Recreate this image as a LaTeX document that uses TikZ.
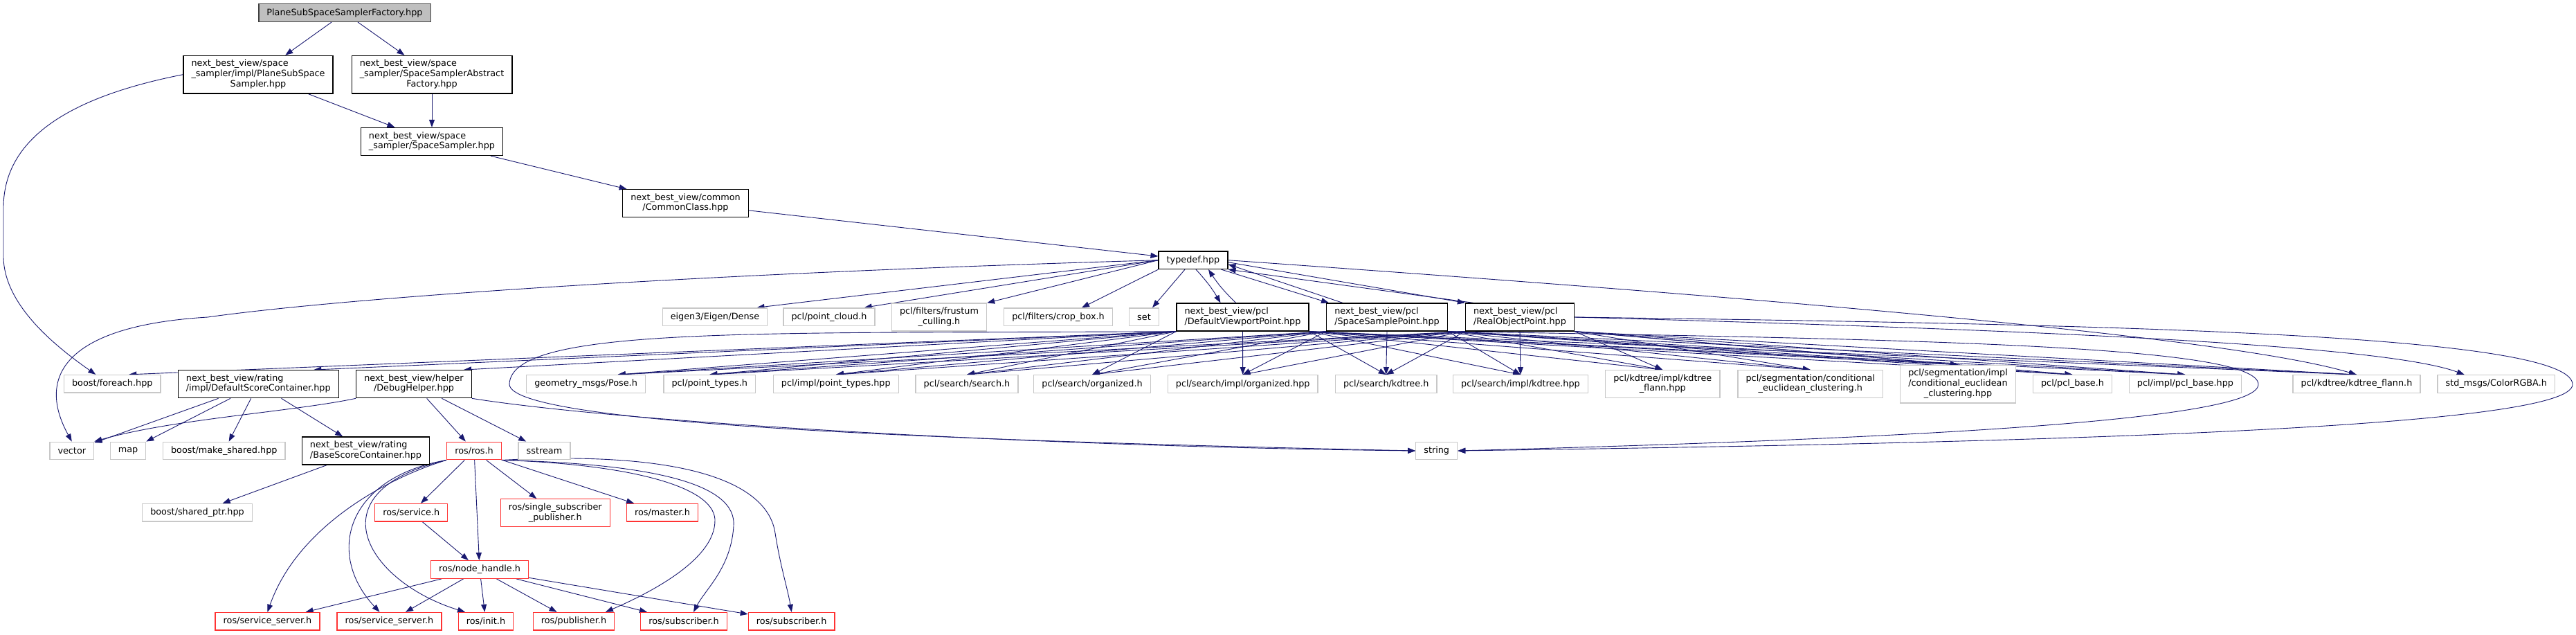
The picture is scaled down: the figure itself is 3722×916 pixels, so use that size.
\documentclass[tikz,border=0pt]{standalone}
\usepackage{fontspec}
\setmainfont{DejaVu Sans}
\usetikzlibrary{arrows.meta}

\definecolor{edgeblue}{HTML}{191970}
\definecolor{extgray}{HTML}{C8C8C8}
\definecolor{truncred}{HTML}{FF3333}
\definecolor{rootgray}{HTML}{BFBFBF}

\pgfdeclarelayer{bg}
\pgfsetlayers{bg,main}

% wrapped file names: first lines left, last line centred
\newcommand{\twoline}[2]{\begin{tabular}{@{}l@{}}#1\\\multicolumn{1}{@{}c@{}}{#2}\end{tabular}}
\newcommand{\threeline}[3]{\begin{tabular}{@{}l@{}}#1\\#2\\\multicolumn{1}{@{}c@{}}{#3}\end{tabular}}

\tikzset{
  filebox/.style={rectangle, draw, fill=white, inner xsep=5.8pt, inner ysep=2.65pt,
    minimum height=12.8pt, line width=0.65pt, font=\fontsize{6.4}{7.35}\selectfont},
  mainbox/.style={filebox, draw=black!75, fill=rootgray},
  docbox/.style={filebox, draw=black},
  extbox/.style={filebox, draw=extgray},
  redbox/.style={filebox, draw=truncred},
  inc/.style={draw=edgeblue, line width=0.45pt, -{Triangle[length=5.5pt,width=4pt]}},
}

\begin{document}
\begin{tikzpicture}[x=0.5pt, y=-0.5pt]
    \useasboundingbox (0,0) rectangle (3722,916);

    % Tep goc va chuoi include phia tren
    \node[mainbox] (root) at (498,18.5) {PlaneSubSpaceSamplerFactory.hpp};
    \node[docbox] (psss) at (373,107.7) {\threeline{next\_best\_view/space}{\_sampler/impl/PlaneSubSpace}{Sampler.hpp}};
    \node[docbox] (ssaf) at (624,107.7) {\threeline{next\_best\_view/space}{\_sampler/SpaceSamplerAbstract}{Factory.hpp}};
    \node[docbox] (ssmp) at (624,204.5) {\twoline{next\_best\_view/space}{\_sampler/SpaceSampler.hpp}};
    \node[docbox] (cmcl) at (990.5,293.7) {\twoline{next\_best\_view/common}{/CommonClass.hpp}};
    \node[docbox] (tdef) at (1724,375.7) {typedef.hpp};

    % Hang 1
    \node[extbox] (eigen) at (1033,457.7) {eigen3/Eigen/Dense};
    \node[extbox] (pcloud) at (1198,457.7) {pcl/point\_cloud.h};
    \node[extbox] (frust) at (1357,458) {\twoline{pcl/filters/frustum}{\_culling.h}};
    \node[extbox] (crop) at (1529,457.7) {pcl/filters/crop\_box.h};
    \node[extbox] (stdset) at (1653,457.7) {set};
    \node[docbox] (dvp) at (1795.5,458) {\twoline{next\_best\_view/pcl}{/DefaultViewportPoint.hpp}};
    \node[docbox] (ssp) at (2004,458) {\twoline{next\_best\_view/pcl}{/SpaceSamplePoint.hpp}};
    \node[docbox] (rop) at (2196,458) {\twoline{next\_best\_view/pcl}{/RealObjectPoint.hpp}};

    % Hang 2
    \node[extbox] (foreach) at (162.3,554.3) {boost/foreach.hpp};
    \node[docbox] (dsc) at (373.3,554.7) {\twoline{next\_best\_view/rating}{/impl/DefaultScoreContainer.hpp}};
    \node[docbox] (dbg) at (598,554.7) {\twoline{next\_best\_view/helper}{/DebugHelper.hpp}};
    \node[extbox] (pose) at (846.6,554.5) {geometry\_msgs/Pose.h};
    \node[extbox] (ptyp) at (1025.3,554.5) {pcl/point\_types.h};
    \node[extbox] (iptyp) at (1207.8,554.5) {pcl/impl/point\_types.hpp};
    \node[extbox] (ssearch) at (1397,554.5) {pcl/search/search.h};
    \node[extbox] (sorg) at (1578,554.5) {pcl/search/organized.h};
    \node[extbox] (siorg) at (1795.7,554.5) {pcl/search/impl/organized.hpp};
    \node[extbox] (skd) at (2002.7,554.5) {pcl/search/kdtree.h};
    \node[extbox] (sikd) at (2197,554.5) {pcl/search/impl/kdtree.hpp};
    \node[extbox] (kdifl) at (2402.3,554.7) {\twoline{pcl/kdtree/impl/kdtree}{\_flann.hpp}};
    \node[extbox] (segh) at (2615.8,554.7) {\twoline{pcl/segmentation/conditional}{\_euclidean\_clustering.h}};
    \node[extbox] (seghpp) at (2829,554.7) {\threeline{pcl/segmentation/impl}{/conditional\_euclidean}{\_clustering.hpp}};
    \node[extbox] (pbase) at (2994.5,554.5) {pcl/pcl\_base.h};
    \node[extbox] (ipbase) at (3157.4,554.5) {pcl/impl/pcl\_base.hpp};
    \node[extbox] (kdfl) at (3405,554.5) {pcl/kdtree/kdtree\_flann.h};
    \node[extbox] (rgba) at (3606.8,554.5) {std\_msgs/ColorRGBA.h};

    % Hang 3
    \node[extbox] (vec) at (103.8,651) {vector};
    \node[extbox] (stdmap) at (185,651) {map};
    \node[extbox] (mksh) at (323.8,651) {boost/make\_shared.hpp};
    \node[docbox] (bsc) at (528.5,651) {\twoline{next\_best\_view/rating}{/BaseScoreContainer.hpp}};
    \node[redbox] (rosh) at (685,651) {ros/ros.h};
    \node[extbox] (sstr) at (786.5,651) {sstream};
    \node[extbox] (str) at (2075.7,651) {string};

    % ros
    \node[extbox] (shptr) at (285,740.3) {boost/shared\_ptr.hpp};
    \node[redbox] (srvh) at (594.3,740.3) {ros/service.h};
    \node[redbox] (ssub) at (802.3,740.7) {\twoline{ros/single\_subscriber}{\_publisher.h}};
    \node[redbox] (mast) at (957,740.3) {ros/master.h};
    \node[redbox] (nh) at (693,822.5) {ros/node\_handle.h};
    \node[redbox] (srv1) at (386.5,897.3) {ros/service\_server.h};
    \node[redbox] (srv2) at (562.5,897.3) {ros/service\_server.h};
    \node[redbox] (init) at (702,897.3) {ros/init.h};
    \node[redbox] (pub) at (829,897.3) {ros/publisher.h};
    \node[redbox] (sub1) at (988,897.3) {ros/subscriber.h};
    \node[redbox] (sub2) at (1143.7,897.3) {ros/subscriber.h};

    \begin{pgfonlayer}{bg}
    % Phan tren
    \draw[inc] (root) -- (psss);
    \draw[inc] (root) -- (ssaf);
    \draw[inc] (psss) -- (ssmp);
    \draw[inc] (ssaf) -- (ssmp);
    \draw[inc] (psss.west) .. controls (100,140) and (5,200) .. (5,300) -- (5,370) .. controls (5,440) and (80,500) .. ([xshift=-12pt]foreach.north);
    \draw[inc] (ssmp) -- (cmcl);
    \draw[inc] (cmcl) -- (tdef);

    % typedef.hpp
    \draw[inc] (tdef.west) .. controls (1000,395) and (500,430) .. (300,458) .. controls (100,470) and (50,540) .. (vec.north);
    \draw[inc] (tdef.west) -- ([xshift=-8pt]eigen.north east);
    \draw[inc] (tdef.west) -- ([xshift=-8pt]pcloud.north east);
    \draw[inc] (tdef.west) -- (frust.north east);
    \draw[inc] (tdef.south west) -- ([xshift=17pt]crop.north);
    \draw[inc] ([xshift=-6pt]tdef.south) -- ([xshift=6pt]stdset.north);
    \draw[inc] ([xshift=2pt]tdef.south) to[bend left=6] ([xshift=-16pt]dvp.north);
    \draw[inc] ([xshift=-5pt]dvp.north) to[bend left=6] ([xshift=11pt]tdef.south);
    \draw[inc] ([xshift=-5pt]tdef.south east) -- ([xshift=2pt]ssp.north west);
    \draw[inc] ([xshift=12pt]ssp.north west) -- ([yshift=-3pt]tdef.east);
    \draw[inc] ([yshift=-1.5pt]tdef.east) -- (rop.north west);
    \draw[inc] ([xshift=6pt]rop.north west) -- (tdef.south east);
    \draw[inc] (tdef.east) .. controls (2400,420) and (3200,480) .. (kdfl.north);

    % DefaultViewportPoint.hpp
    \draw[inc] (dvp.south west) -- ([xshift=12pt]foreach.north);
    \draw[inc] (dvp.south west) -- ([xshift=40pt]dsc.north);
    \draw[inc] (dvp.south west) -- ([xshift=36pt]dbg.north);
    \draw[inc] (dvp.south west) -- ([xshift=23pt]pose.north);
    \draw[inc] (dvp.south west) -- (ptyp.north);
    \draw[inc] (dvp.south west) -- (iptyp.north);
    \draw[inc] (dvp.south west) -- (ssearch.north);
    \draw[inc] (dvp.south west) -- (sorg.north);
    \draw[inc] (dvp.south) -- (siorg.north);
    \draw[inc] (dvp.south east) -- (skd.north);
    \draw[inc] (dvp.south east) -- (sikd.north);
    \draw[inc] (dvp.south east) -- (kdifl.north);
    \draw[inc] (dvp.south east) -- (segh.north);
    \draw[inc] (dvp.south east) -- (seghpp.north);
    \draw[inc] (dvp.south east) -- (pbase.north);
    \draw[inc] (dvp.south east) -- (ipbase.north);
    \draw[inc] (dvp.south east) -- (kdfl.north);
    \draw[inc] (dvp.south west) .. controls (1100,482) and (738,470) .. (736,555) .. controls (738,610) and (1300,635) .. (str.west);

    % SpaceSamplePoint.hpp
    \draw[inc] (ssp.south west) -- ([xshift=23pt]pose.north);
    \draw[inc] (ssp.south west) -- (ptyp.north);
    \draw[inc] (ssp.south west) -- (iptyp.north);
    \draw[inc] (ssp.south west) -- (ssearch.north);
    \draw[inc] (ssp.south west) -- (sorg.north);
    \draw[inc] (ssp.south west) -- (siorg.north);
    \draw[inc] (ssp.south) -- (skd.north);
    \draw[inc] (ssp.south east) -- (sikd.north);
    \draw[inc] (ssp.south east) -- (kdifl.north);
    \draw[inc] (ssp.south east) -- (segh.north);
    \draw[inc] (ssp.south east) -- (seghpp.north);
    \draw[inc] (ssp.south east) -- (pbase.north);
    \draw[inc] (ssp.south east) -- (ipbase.north);
    \draw[inc] (ssp.south east) -- (kdfl.north);
    \draw[inc] (ssp.south east) .. controls (2800,490) and (3262,500) .. (3263,555) .. controls (3264,610) and (2700,635) .. (str.east);

    % RealObjectPoint.hpp
    \draw[inc] (rop.south west) -- ([xshift=23pt]pose.north);
    \draw[inc] (rop.south west) -- (ptyp.north);
    \draw[inc] (rop.south west) -- (iptyp.north);
    \draw[inc] (rop.south west) -- (ssearch.north);
    \draw[inc] (rop.south west) -- (sorg.north);
    \draw[inc] (rop.south west) -- (siorg.north);
    \draw[inc] (rop.south west) -- (skd.north);
    \draw[inc] (rop.south) -- (sikd.north);
    \draw[inc] (rop.south east) -- (kdifl.north);
    \draw[inc] (rop.south east) -- (segh.north);
    \draw[inc] (rop.south east) -- (seghpp.north);
    \draw[inc] (rop.south east) -- (pbase.north);
    \draw[inc] (rop.south east) -- (ipbase.north);
    \draw[inc] (rop.south east) -- (kdfl.north);
    \draw[inc] (rop.east) .. controls (3000,478) and (3450,500) .. ([xshift=-23pt]rgba.north);
    \draw[inc] (rop.east) .. controls (3000,468) and (3715,480) .. (3717,555) .. controls (3719,620) and (2900,640) .. (str.east);

    % rating, helper
    \draw[inc] (dsc) -- (vec);
    \draw[inc] (dsc) -- (stdmap);
    \draw[inc] (dsc) -- (mksh);
    \draw[inc] (dsc) -- (bsc);
    \draw[inc] (bsc) -- (shptr);
    \draw[inc] (dbg.south west) .. controls (420,595) and (250,605) .. (vec.north east);
    \draw[inc] (dbg) -- (rosh);
    \draw[inc] (dbg) -- (sstr);
    \draw[inc] (dbg.south east) .. controls (900,610) and (1500,645) .. (str.west);

    % ros/ros.h
    \draw[inc] (rosh) -- (srvh);
    \draw[inc] (rosh) -- (nh);
    \draw[inc] (rosh) -- (ssub);
    \draw[inc] (rosh) -- (mast);
    \draw[inc] (rosh.south west) .. controls (560,690) and (430,760) .. (srv1.north);
    \draw[inc] (rosh.south west) .. controls (500,690) and (470,800) .. ([xshift=-7pt]srv2.north);
    \draw[inc] (rosh.south west) .. controls (450,710) and (530,840) .. ([xshift=-15pt]init.north);
    \draw[inc] (rosh.south east) .. controls (900,670) and (1030,700) .. (1033,750) .. controls (1035,810) and (930,860) .. ([xshift=23pt]pub.north);
    \draw[inc] (rosh.south east) .. controls (950,670) and (1065,700) .. (1060,760) .. controls (1056,820) and (1020,850) .. ([xshift=7pt]sub1.north);
    \draw[inc] (rosh.south east) .. controls (1000,650) and (1110,700) .. (1120,770) .. controls (1128,820) and (1138,850) .. (sub2.north);

    % ros/node_handle.h
    \draw[inc] (srvh) -- (nh);
    \draw[inc] (nh) -- (srv1);
    \draw[inc] (nh) -- (srv2);
    \draw[inc] (nh) -- (init);
    \draw[inc] (nh) -- (pub);
    \draw[inc] (nh) -- (sub1);
    \draw[inc] (nh) -- (sub2);
    \end{pgfonlayer}
\end{tikzpicture}
\end{document}
